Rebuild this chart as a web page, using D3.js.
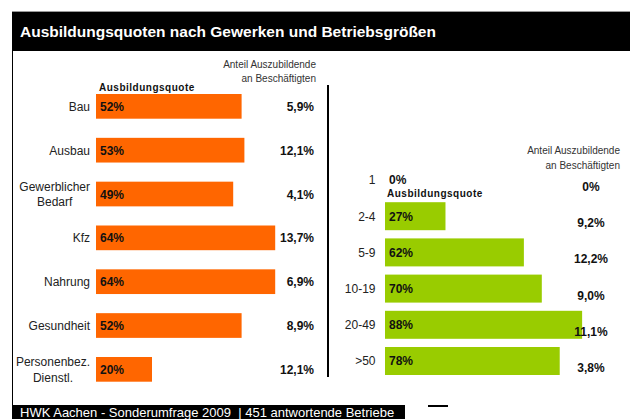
<!DOCTYPE html>
<html><head><meta charset="utf-8">
<script src="https://cdn.jsdelivr.net/npm/d3@7"></script>
<style>
html,body{margin:0;padding:0;background:#fff;}
svg{display:block;font-family:"Liberation Sans",Arial,sans-serif;}
</style></head>
<body>
<svg id="c" width="630" height="419"></svg>
<script>
const title = "Ausbildungsquoten nach Gewerken und Betriebsgrößen";
const footer = "HWK Aachen - Sonderumfrage 2009  | 451 antwortende Betriebe";
const shareHeader = ["Anteil Auszubildende", "an Beschäftigten"];
const quoteHeader = "Ausbildungsquote";

const tradeCats = ["Bau", "Ausbau", "Gewerblicher\nBedarf", "Kfz", "Nahrung", "Gesundheit", "Personenbez.\nDienstl."];
const tradeQuote = [52, 53, 49, 64, 64, 52, 20];
const tradeShare = [5.9, 12.1, 4.1, 13.7, 6.9, 8.9, 12.1];

const sizeCats = ["1", "2-4", "5-9", "10-19", "20-49", ">50"];
const sizeQuote = [0, 27, 62, 70, 88, 78];
const sizeShare = [0, 9.2, 12.2, 9.0, 11.1, 3.8];

const fmtShare = v => v === 0 ? "0%" : d3.format(".1f")(v).replace(".", ",") + "%";
const fmtQuote = v => v + "%";

const svg = d3.select("#c");

// frame
svg.append("line").attr("x1", 12).attr("x2", 630).attr("y1", 11.5).attr("y2", 11.5).attr("stroke", "#999").attr("stroke-width", 1);
svg.append("rect").attr("x", 12).attr("y", 12).attr("width", 618).attr("height", 39).attr("fill", "#000");
svg.append("text").attr("x", 20).attr("y", 37).attr("fill", "#fff").attr("font-size", 15.5).attr("font-weight", "bold").text(title);
svg.append("line").attr("x1", 12.5).attr("x2", 12.5).attr("y1", 51).attr("y2", 405).attr("stroke", "#000").attr("stroke-width", 1);
svg.append("rect").attr("x", 12).attr("y", 405).attr("width", 393).attr("height", 14).attr("fill", "#000");
svg.append("text").attr("x", 20).attr("y", 416.5).attr("fill", "#fff").attr("font-size", 13).style("white-space", "pre").text(footer);
svg.append("line").attr("x1", 428).attr("x2", 448).attr("y1", 406).attr("y2", 406).attr("stroke", "#000").attr("stroke-width", 2);
// divider
svg.append("line").attr("x1", 328).attr("x2", 328).attr("y1", 85).attr("y2", 377).attr("stroke", "#000").attr("stroke-width", 2);

// ---- left panel ----
const xL = d3.scaleLinear().domain([0, 100]).range([96, 376]);
const yL = d3.scaleBand().domain(tradeCats).range([94, 381.7]).paddingInner(0.4365).paddingOuter(0);
const gL = svg.append("g");

gL.append("text").attr("x", 316).attr("y", 68).attr("text-anchor", "end").attr("font-size", 10).attr("fill", "#333").text(shareHeader[0]);
gL.append("text").attr("x", 316).attr("y", 82).attr("text-anchor", "end").attr("font-size", 10).attr("fill", "#333").text(shareHeader[1]);
gL.append("text").attr("x", 99).attr("y", 91).attr("font-size", 10).attr("font-weight", "bold").attr("letter-spacing", 0.5).attr("fill", "#111").text(quoteHeader);

gL.selectAll("rect.bar").data(tradeCats).join("rect").attr("class", "bar")
  .attr("x", xL(0)).attr("y", d => yL(d)).attr("height", yL.bandwidth())
  .attr("width", (d, i) => xL(tradeQuote[i]) - xL(0)).attr("fill", "#FF6600");

gL.selectAll("text.q").data(tradeCats).join("text").attr("class", "q")
  .attr("x", 100).attr("y", d => yL(d) + yL.bandwidth() / 2 + 4.5)
  .attr("font-size", 12).attr("font-weight", "bold").attr("fill", "#111")
  .text((d, i) => fmtQuote(tradeQuote[i]));

gL.selectAll("text.s").data(tradeCats).join("text").attr("class", "s")
  .attr("x", 314).attr("y", d => yL(d) + yL.bandwidth() / 2 + 4.5)
  .attr("text-anchor", "end").attr("font-size", 12).attr("font-weight", "bold").attr("fill", "#111")
  .text((d, i) => fmtShare(tradeShare[i]));

tradeCats.forEach(c => {
  const lines = c.split("\n");
  const cy = yL(c) + yL.bandwidth() / 2;
  const t = gL.append("text").attr("font-size", 12).attr("fill", "#222");
  lines.forEach((l, j) => {
    t.append("tspan").attr("y", cy + 4.5 + (j - (lines.length - 1) / 2) * 15.5).text(l);
  });
  let maxW = 0;
  t.selectAll("tspan").each(function () { maxW = Math.max(maxW, this.getComputedTextLength()); });
  t.attr("text-anchor", "middle").selectAll("tspan").attr("x", 90 - maxW / 2);
});

// ---- right panel ----
const xR = d3.scaleLinear().domain([0, 100]).range([385, 609]);
const yR = d3.scaleBand().domain(sizeCats).range([166, 375]).paddingInner(0.2265).paddingOuter(0);
const gR = svg.append("g");

gR.append("text").attr("x", 620).attr("y", 154).attr("text-anchor", "end").attr("font-size", 10).attr("fill", "#333").text(shareHeader[0]);
gR.append("text").attr("x", 620).attr("y", 168.5).attr("text-anchor", "end").attr("font-size", 10).attr("fill", "#333").text(shareHeader[1]);
gR.append("text").attr("x", 387).attr("y", 197).attr("font-size", 10).attr("font-weight", "bold").attr("letter-spacing", 0.5).attr("fill", "#111").text(quoteHeader);

gR.selectAll("rect.bar").data(sizeCats).join("rect").attr("class", "bar")
  .attr("x", xR(0)).attr("y", d => yR(d)).attr("height", yR.bandwidth())
  .attr("width", (d, i) => xR(sizeQuote[i]) - xR(0)).attr("fill", "#99CC00");

gR.selectAll("text.q").data(sizeCats).join("text").attr("class", "q")
  .attr("x", 389).attr("y", (d, i) => i === 0 ? yR(d) + 17.5 : yR(d) + yR.bandwidth() / 2 + 4.5)
  .attr("font-size", 12).attr("font-weight", "bold").attr("fill", "#111")
  .text((d, i) => fmtQuote(sizeQuote[i]));

gR.selectAll("text.s").data(sizeCats).join("text").attr("class", "s")
  .attr("x", 591).attr("y", d => yR(d) + yR.bandwidth() / 2 + 11)
  .attr("text-anchor", "middle").attr("font-size", 12).attr("font-weight", "bold").attr("fill", "#111")
  .text((d, i) => fmtShare(sizeShare[i]));

gR.selectAll("text.c").data(sizeCats).join("text").attr("class", "c")
  .attr("x", 375.5).attr("y", (d, i) => i === 0 ? yR(d) + 17.5 : yR(d) + yR.bandwidth() / 2 + 4.5)
  .attr("text-anchor", "end").attr("font-size", 12).attr("fill", "#222")
  .text(d => d);
</script>
</body></html>
